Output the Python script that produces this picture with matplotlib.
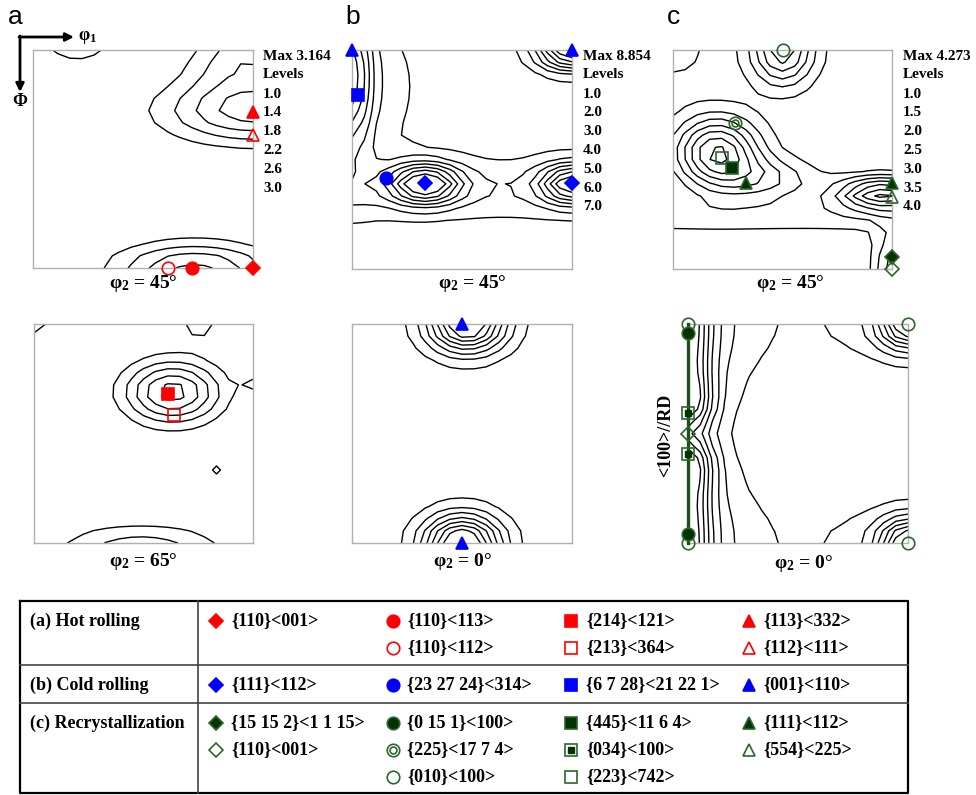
import numpy as np
import matplotlib

matplotlib.use('Agg')
from matplotlib import pyplot as plt

W, H = 976, 795

plt.rcParams['font.family'] = ['Liberation Serif', 'DejaVu Serif']
plt.rcParams['font.weight'] = 'bold'
plt.rcParams['mathtext.fontset'] = 'custom'
plt.rcParams['mathtext.rm'] = 'Liberation Serif:bold'
plt.rcParams['mathtext.it'] = 'Liberation Serif:bold'
plt.rcParams['mathtext.bf'] = 'Liberation Serif:bold'

# ODF sections sampled every 5 degrees
angles = np.arange(0, 91, 5)

# peaks: (phi1, Phi, height, spread phi1, spread Phi)
a45_base = 0.5
a45_peaks = [(90, 25, 1.9, 26, 9.5), (90, 0, 1.1, 11, 11), (72, 5, 0.45, 10, 8),
             (18, 0, 0.75, 11, 4.5), (66, 90, 1.8, 23, 7.5)]
a65_base = 0.5
a65_peaks = [(57, 28, 2.3, 14, 9), (0, 0, 0.7, 6, 5), (68, 0, 0.75, 6, 5),
             (90, 24, 0.55, 3.5, 3), (75, 60, 0.66, 3, 3), (44, 90, 1.1, 24, 5.3)]
b45_base = 0.3
b45_peaks = [(0, 10, 5.2, 5.5, 22), (0, 15, 1.4, 20, 25), (90, 0, 8.5, 10, 5.5),
             (30, 55, 7.3, 10, 5.5), (90, 55, 6.8, 9, 5.5), (45, 57, 1.6, 1000, 9)]
b0_base = 0.3
b0_peaks = [(47, 0, 8.6, 11, 8), (45, 90, 8.6, 11, 8)]
c45_base = 0.6
c45_peaks = [(18, 42, 3.5, 12, 10), (38, 53, 1.4, 14, 6), (45, 0, 2.8, 9, 10),
             (86, 59, 3.4, 13, 4.5), (90, 90, 1.7, 5, 12), (45, 68, 0.7, 1000, 5),
             (0, 0, 0.6, 12, 10)]
c0_base = 0.5
c0_peaks = [(0, 45, 2.8, 6.5, 1000), (0, 32, 0.8, 10, 8), (0, 58, 0.8, 10, 8),
            (0, 45, -1.2, 7, 5), (0, 45, 0.4, 14, 1000), (0, 0, 1.0, 26, 22),
            (0, 90, 1.0, 26, 22), (90, 0, 3.5, 8, 7), (90, 90, 3.5, 8, 7),
            (90, 0, 0.95, 26, 12), (90, 90, 0.95, 26, 12)]

a_levels = [1.0, 1.4, 1.8, 2.2, 2.6, 3.0]
b_levels = [1.0, 2.0, 3.0, 4.0, 5.0, 6.0, 7.0]
c_levels = [1.0, 1.5, 2.0, 2.5, 3.0, 3.5, 4.0]
max_values = ['3.164', '8.854', '4.273']

# texture components (legend table)
hot_comp = ['{110}<001>', '{110}<113>', '{214}<121>', '{113}<332>',
            '{110}<112>', '{213}<364>', '{112}<111>']
hot_sym = ['D*', 'o*', 's*', '^*', 'o', 's', '^']
cold_comp = ['{111}<112>', '{23 27 24}<314>', '{6 7 28}<21 22 1>', '{001}<110>']
cold_sym = ['D*', 'o*', 's*', '^*']
rex_comp = ['{15 15 2}<1 1 15>', '{0 15 1}<100>', '{445}<11 6 4>', '{111}<112>',
            '{110}<001>', '{225}<17 7 4>', '{034}<100>', '{554}<225>',
            '{010}<100>', '{223}<742>']
rex_sym = ['D*', 'o*', 's*', '^*', 'D', 'oo', 's.', '^', 'o', 's']

# component positions (phi1, Phi) in each section
a45_marks = [('{113}<332>', 90, 25.6), ('{112}<111>', 90, 35), ('{110}<112>', 55.3, 90),
             ('{110}<113>', 65, 90), ('{110}<001>', 90, 90)]
a65_marks = [('{214}<121>', 55.2, 28.9), ('{213}<364>', 57.7, 37.4)]
b45_marks = [('{001}<110>', 0, 0), ('{001}<110>', 90, 0), ('{6 7 28}<21 22 1>', 2.6, 18.5),
             ('{23 27 24}<314>', 13.9, 52.7), ('{111}<112>', 29.9, 54.5),
             ('{111}<112>', 90, 54.5)]
b0_marks = [('{001}<110>', 45, 0), ('{001}<110>', 45, 90)]
c45_marks = [('{010}<100>', 45, 0), ('{225}<17 7 4>', 25.5, 29.9), ('{223}<742>', 20, 44.5),
             ('{445}<11 6 4>', 24.1, 48.3), ('{111}<112>', 30, 54.8), ('{111}<112>', 90, 54.8),
             ('{554}<225>', 90, 60.3), ('{15 15 2}<1 1 15>', 90, 85), ('{110}<001>', 90, 90)]
c0_marks = [('{010}<100>', 0, 0), ('{010}<100>', 0, 90), ('{010}<100>', 90, 0),
            ('{010}<100>', 90, 90), ('{0 15 1}<100>', 0, 3.8), ('{0 15 1}<100>', 0, 86.3),
            ('{034}<100>', 0, 36.7), ('{034}<100>', 0, 53.4), ('{110}<001>', 0, 45.2)]

RED, BLUE, DKG, OPG = '#ff0000', '#0000ff', '#003300', '#2b662b'

fig = plt.figure(figsize=(W / 100, H / 100), dpi=100)
ov = fig.add_axes([0, 0, 1, 1], zorder=10)
ov.set_xlim(0, W)
ov.set_ylim(H, 0)
ov.axis('off')


def px_axes(x0, y0, x1, y1):
  return fig.add_axes([x0 / W, 1 - y1 / H, (x1 - x0) / W, (y1 - y0) / H])


def odf_field(base, peaks):
  X, Y = np.meshgrid(angles, angles)
  Z = np.full(X.shape, float(base))
  for x0, y0, amp, sx, sy in peaks:
    Z += amp * np.exp(-((X - x0) ** 2 / (2 * sx ** 2) + (Y - y0) ** 2 / (2 * sy ** 2)))
  return X, Y, Z


def draw_symbol(ax, x, y, sym, color):
  """Draw one texture component symbol"""
  shape = sym[0]
  filled = sym.endswith('*')
  size = {'D': 6.8, 'o': 9.0, 's': 8.6, '^': 9.2}[shape]
  edge = color
  if color == DKG:
    edge = OPG
  face = color if filled else 'none'
  ax.plot(x, y, marker=shape, ms=size, mfc=face, mec=edge, mew=1.2,
          ls='none', clip_on=False, zorder=6)
  if sym == 'oo':
    ax.plot(x, y, marker='o', ms=size * 0.55, mfc='none', mec=OPG, mew=1.2,
            ls='none', clip_on=False, zorder=6)
  if sym == 's.':
    ax.plot(x, y, marker='s', ms=size * 0.45, mfc=DKG, mec=DKG,
            ls='none', clip_on=False, zorder=6)


def draw_section(box, base, peaks, levels, marks, comps, syms, color):
  ax = px_axes(*box)
  X, Y, Z = odf_field(base, peaks)
  ax.contour(X, Y, Z, levels=levels, colors='black', linewidths=1.0)
  ax.set_xlim(0, 90)
  ax.set_ylim(90, 0)
  ax.set_xticks([])
  ax.set_yticks([])
  for s in ax.spines.values():
    s.set_color('#b0b0b0')
    s.set_linewidth(1.0)
  style = dict(zip(comps, syms))
  for name, x, y in marks:
    draw_symbol(ax, x, y, style[name], color)
  return ax


draw_section((33, 50, 253, 268), a45_base, a45_peaks, a_levels, a45_marks, hot_comp, hot_sym, RED)
draw_section((34, 324, 253, 543), a65_base, a65_peaks, a_levels, a65_marks, hot_comp, hot_sym, RED)
draw_section((352, 50, 572, 269), b45_base, b45_peaks, b_levels, b45_marks, cold_comp, cold_sym, BLUE)
draw_section((352, 324, 572, 543), b0_base, b0_peaks, b_levels, b0_marks, cold_comp, cold_sym, BLUE)
draw_section((673, 50, 892, 269), c45_base, c45_peaks, c_levels, c45_marks, rex_comp, rex_sym, DKG)
axc0 = draw_section((688, 324, 908, 543), c0_base, c0_peaks, c_levels, c0_marks, rex_comp, rex_sym, DKG)
# <100>//RD fibre line
axc0.plot([0, 0], [0, 90], color='#1e4d1e', lw=2.4, clip_on=False, zorder=5)
ov.text(666, 435, '<100>//RD', rotation=90, ha='center', va='center', fontsize=13)

# panel letters
for x, letter in zip([15, 353, 673], ['a', 'b', 'c']):
  ov.text(x, 17, letter, ha='center', va='center', fontsize=19,
          fontweight='normal', family=['Liberation Sans', 'DejaVu Sans'])

# axis arrows in (a)
ov.annotate('', xy=(74, 37), xytext=(19, 37),
            arrowprops=dict(arrowstyle='-|>', lw=2, color='black', mutation_scale=12,
                            shrinkA=0, shrinkB=0))
ov.annotate('', xy=(20, 92), xytext=(20, 36),
            arrowprops=dict(arrowstyle='-|>', lw=2, color='black', mutation_scale=12,
                            shrinkA=0, shrinkB=0))
ov.text(78, 38, r'$φ_1$', ha='left', va='center', fontsize=13)
ov.text(20, 101, 'Φ', ha='center', va='center', fontsize=13)

# max and level lists
for x, mx, levels in zip([263, 583, 903], max_values, [a_levels, b_levels, c_levels]):
  ov.text(x, 57, 'Max ' + mx, ha='left', va='center', fontsize=11)
  ov.text(x, 75, 'Levels', ha='left', va='center', fontsize=11)
  for i, lv in enumerate(levels):
    ov.text(x, 94 + i * 18.8, '%.1f' % lv, ha='left', va='center', fontsize=11)

# section labels
for x, y, ang in [(143, 283, '45'), (472, 283, '45'), (790, 283, '45'),
                  (143, 561, '65'), (462, 562, '0'), (803, 563, '0')]:
  ov.text(x, y, r'$φ_2$ = ' + ang + '°', ha='center', va='center', fontsize=14)

# legend table
ov.plot([20, 908, 908, 20, 20], [601, 601, 793, 793, 601], color='black', lw=1.6)
ov.plot([198, 198], [601, 793], color='#444444', lw=1.2)
ov.plot([20, 908], [665, 665], color='#444444', lw=1.2)
ov.plot([20, 908], [703, 703], color='#444444', lw=1.2)

col_sym_x = [216, 393, 571, 749]
col_txt_x = [231, 407, 586, 763]
rows = [('(a) Hot rolling', hot_comp, hot_sym, RED, [621, 648],
         [(0, 0), (1, 0), (2, 0), (3, 0), (1, 1), (2, 1), (3, 1)]),
        ('(b) Cold rolling', cold_comp, cold_sym, BLUE, [685],
         [(0, 0), (1, 0), (2, 0), (3, 0)]),
        ('(c) Recrystallization', rex_comp, rex_sym, DKG, [723, 750, 777],
         [(0, 0), (1, 0), (2, 0), (3, 0), (0, 1), (1, 1), (2, 1), (3, 1), (1, 2), (2, 2)])]
for title, comps, syms, color, ys, slots in rows:
  ov.text(30, ys[0], title, ha='left', va='center', fontsize=13)
  for name, sym, (c, r) in zip(comps, syms, slots):
    draw_symbol(ov, col_sym_x[c], ys[r], sym, color)
    ov.text(col_txt_x[c], ys[r], name, ha='left', va='center', fontsize=13)

fig.savefig('out.png', dpi=100)
